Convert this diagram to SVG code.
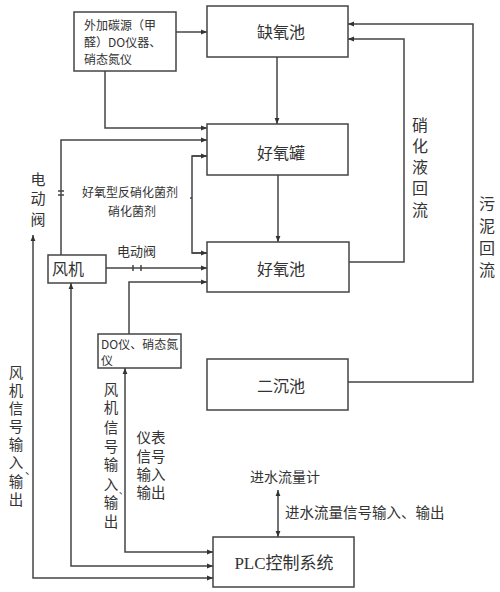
<svg xmlns="http://www.w3.org/2000/svg" width="500" height="592" viewBox="0 0 500 592">
<defs>
<marker id="ah" viewBox="0 0 10 10" refX="10" refY="5" markerWidth="6" markerHeight="6" orient="auto-start-reverse" markerUnits="userSpaceOnUse">
<path d="M0,1 L10,5 L0,9 z" fill="#333"/>
</marker>
<style>
.box{fill:#fff;stroke:#444;stroke-width:1.5}
.ln{fill:none;stroke:#444;stroke-width:1.5}
.t{font-family:"Noto Sans CJK SC",sans-serif;fill:#333}
.n{font-size:16px;text-anchor:middle}
.s{font-size:12px}
.v{font-size:16px;text-anchor:middle}
.w{font-size:14.5px;text-anchor:middle}
</style>
</defs>
<rect width="500" height="592" fill="#fff"/>
<g id="connectors">
<path class="ln" d="M176,32 H207" marker-end="url(#ah)"/>
<path class="ln" d="M105,71 V128 H207" marker-end="url(#ah)"/>
<path class="ln" d="M277,57 V124" marker-end="url(#ah)"/>
<path class="ln" d="M278,175 V242" marker-end="url(#ah)"/>
<path class="ln" d="M61,255 V140 H207" marker-end="url(#ah)"/>
<path class="ln" d="M58,191 H64 M58,195 H64"/>
<path class="ln" d="M190,198 H192 M207,156 H192 V253 H207"/>
<path class="ln" d="M192,156 H207" marker-end="url(#ah)"/>
<path class="ln" d="M192,253 H207" marker-end="url(#ah)"/>
<path class="ln" d="M106,268 H207" marker-end="url(#ah)"/>
<path class="ln" d="M133,265 V271 M141,265 V271"/>
<path class="ln" d="M129,334 V282 H207" marker-end="url(#ah)"/>
<path class="ln" d="M348,382 H473 V24 H348" marker-end="url(#ah)"/>
<path class="ln" d="M349,262 H404 V39 H348" marker-end="url(#ah)"/>
<path class="ln" d="M33,235 V578 H213" marker-end="url(#ah)" marker-start="url(#ah)"/>
<path class="ln" d="M71,283 V566 H213" marker-end="url(#ah)" marker-start="url(#ah)"/>
<path class="ln" d="M125,368 V552 H213" marker-end="url(#ah)" marker-start="url(#ah)"/>
<path class="ln" d="M278,490 V537" marker-end="url(#ah)" marker-start="url(#ah)"/>
</g>
<g id="carbon">
<rect class="box" x="74" y="12" width="102" height="59"/>
<text class="t s" x="84" y="30">外加碳源（甲</text>
<text class="t s" x="84" y="47">醛）DO仪器、</text>
<text class="t s" x="84" y="64">硝态氮仪</text>
</g>
<g id="anoxic">
<rect class="box" x="207" y="6" width="141" height="51"/>
<text class="t n" x="281" y="38">缺氧池</text>
</g>
<g id="aerotank">
<rect class="box" x="207" y="124" width="141" height="51"/>
<text class="t n" x="281" y="159">好氧罐</text>
</g>
<g id="aerobic">
<rect class="box" x="207" y="242" width="142" height="50"/>
<text class="t n" x="281" y="275">好氧池</text>
</g>
<g id="clarifier">
<rect class="box" x="207" y="359" width="141" height="51"/>
<text class="t n" x="281" y="392">二沉池</text>
</g>
<g id="fan">
<rect class="box" x="48" y="255" width="58" height="28"/>
<text class="t" x="52" y="275" font-size="16">风机</text>
</g>
<g id="do">
<rect class="box" x="98" y="334" width="83" height="34"/>
<text class="t s" x="101" y="349">DO仪、硝态氮</text>
<text class="t s" x="101" y="365">仪</text>
</g>
<g id="plc">
<rect class="box" x="213" y="537" width="141" height="50"/>
<text x="284" y="569" font-size="17" text-anchor="middle" fill="#333" font-family="Liberation Serif,Noto Sans CJK SC,serif">PLC控制系统</text>
</g>
<g id="labels">
<text class="t s" x="82" y="197">好氧型反硝化菌剂</text>
<text class="t s" x="108" y="216">硝化菌剂</text>
<text class="t" x="117" y="256" font-size="13">电动阀</text>
<text class="t" x="38" y="185" font-size="15" text-anchor="middle">电</text>
<text class="t" x="38" y="204" font-size="15" text-anchor="middle">动</text>
<text class="t" x="38" y="225" font-size="15" text-anchor="middle">阀</text>
<text class="t v" x="420" y="131">硝</text>
<text class="t v" x="420" y="152">化</text>
<text class="t v" x="420" y="173">液</text>
<text class="t v" x="420" y="194">回</text>
<text class="t v" x="420" y="216">流</text>
<text class="t v" x="487" y="210">污</text>
<text class="t v" x="487" y="232">泥</text>
<text class="t v" x="487" y="254">回</text>
<text class="t v" x="487" y="276">流</text>
<text class="t w" x="16" y="378">风</text>
<text class="t w" x="16" y="396">机</text>
<text class="t w" x="16" y="414">信</text>
<text class="t w" x="16" y="432">号</text>
<text class="t w" x="16" y="450">输</text>
<text class="t w" x="16" y="468">入</text>
<text class="t" x="25" y="474" font-size="11">、</text>
<text class="t w" x="16" y="487">输</text>
<text class="t w" x="16" y="505">出</text>
<text class="t w" x="111" y="395">风</text>
<text class="t w" x="111" y="413">机</text>
<text class="t w" x="111" y="433">信</text>
<text class="t w" x="111" y="452">号</text>
<text class="t w" x="111" y="470">输</text>
<text class="t w" x="111" y="490">入</text>
<text class="t" x="119" y="494" font-size="9">、</text>
<text class="t w" x="111" y="508">输</text>
<text class="t w" x="111" y="527">出</text>
<text class="t" x="151" y="443" font-size="14.5" text-anchor="middle">仪表</text>
<text class="t" x="151" y="462" font-size="14.5" text-anchor="middle">信号</text>
<text class="t" x="151" y="480" font-size="14.5" text-anchor="middle">输入</text>
<text class="t" x="151" y="498" font-size="14.5" text-anchor="middle">输出</text>
<text class="t" x="250" y="482" font-size="14">进水流量计</text>
<text class="t" x="285" y="518" font-size="14.5">进水流量信号输入、输出</text>
</g>
</svg>
